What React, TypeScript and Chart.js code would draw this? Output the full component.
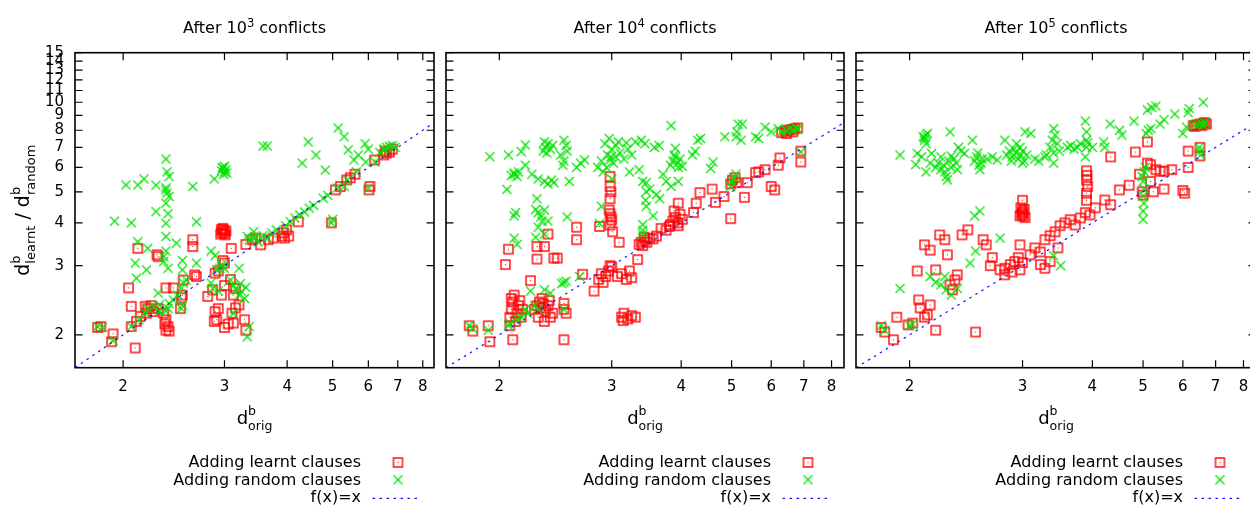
import React, { useEffect, useRef } from 'react';
import { Chart, registerables, LinearScale } from 'chart.js';

Chart.register(...registerables);

// ---- axes -------------------------------------------------------------
// Both axes are logarithmic in (value - SHIFT).
const SHIFT = 0.8;
const X_MIN = 1.7;
const X_MAX = 8.5;
const Y_MIN = 1.7;
const Y_MAX = 15;
const X_TICKS = [2, 3, 4, 5, 6, 7, 8];
const Y_TICKS = [2, 3, 4, 5, 6, 7, 8, 9, 10, 11, 12, 13, 14, 15];
const IDENTITY = [1.7, 8.5];

// ---- labels -----------------------------------------------------------
const PANEL_EXPONENTS = ['3', '4', '5'];
const LEGEND_LABELS = ['Adding learnt clauses', 'Adding random clauses', 'f(x)=x'];

// ---- data: [d_orig, d_learnt/d_random] --------------------------------
type P = [number, number];

const LEARNT_AFTER_1E3: P[] = [
  [1.83, 2.08], [1.85, 2.09], [1.93, 2.01], [1.92, 1.93], [2.09, 1.87], [2.04, 2.61], [2.06, 2.34],
  [2.11, 3.36], [2.27, 3.22], [2.28, 3.18], [2.62, 3.56], [2.62, 3.4], [3.09, 3.36],
  [2.06, 2.09], [2.1, 2.15], [2.13, 2.21], [2.18, 2.25], [2.19, 2.31], [2.24, 2.27], [2.28, 2.31],
  [2.33, 2.25], [2.35, 2.17], [2.37, 2.09], [2.38, 2.04], [2.35, 2.05], [2.34, 2.12], [2.17, 2.34],
  [2.22, 2.35], [2.35, 2.61], [2.42, 2.61], [2.5, 2.46], [2.49, 2.31], [2.51, 2.5], [2.52, 2.74],
  [2.64, 2.83], [2.66, 2.8], [2.79, 2.48], [2.85, 2.58], [2.88, 2.86], [2.92, 2.9], [3.0, 3.05],
  [2.98, 3.1], [2.88, 2.27], [2.9, 2.17], [2.87, 2.15], [2.92, 2.31], [3.12, 2.13], [3.1, 2.25],
  [3.28, 2.17], [3.3, 2.05], [3.15, 2.32], [3.2, 2.36], [3.12, 2.5], [3.15, 2.6], [3.08, 2.75],
  [2.95, 3.7], [2.97, 3.75], [2.99, 3.8], [3.0, 3.72], [3.02, 3.78], [2.96, 3.82], [3.01, 3.68],
  [2.98, 3.85], [3.4, 3.56], [3.3, 3.45], [3.45, 3.6], [3.93, 3.73], [3.99, 3.81], [3.9, 3.65],
  [4.03, 3.65], [3.95, 3.6], [3.53, 3.44], [3.66, 3.56], [3.75, 3.6], [4.22, 4.03], [4.97, 4.0],
  [5.07, 5.07], [5.2, 5.2], [5.37, 5.46], [5.47, 5.55], [5.6, 5.7], [6.02, 5.07], [6.05, 5.2],
  [6.2, 6.35], [6.5, 6.6], [6.6, 6.7], [6.7, 6.75], [6.8, 6.9], [6.55, 6.8], [3.0, 2.65],
  [2.96, 2.5], [3.0, 2.08], [3.05, 2.12],
];

const RANDOM_AFTER_1E3: P[] = [
  [1.83, 2.09], [1.86, 2.08], [1.93, 1.94], [2.06, 2.09], [2.12, 2.17], [2.17, 2.25], [2.19, 2.31],
  [2.24, 2.34], [2.29, 2.36], [2.29, 2.27], [2.34, 2.29], [2.37, 2.31], [2.38, 2.38], [2.42, 2.43],
  [2.46, 2.5], [2.5, 2.61], [2.52, 2.69], [2.55, 2.74], [2.51, 2.36], [2.5, 2.31], [2.28, 2.53],
  [2.83, 2.69], [2.85, 2.6], [2.92, 2.56], [2.9, 2.92], [2.94, 2.95], [2.97, 2.98], [3.0, 2.95],
  [2.96, 3.02], [3.08, 2.74], [3.12, 2.65], [3.16, 2.58], [3.2, 2.5], [3.24, 2.55], [3.28, 2.45],
  [3.3, 2.62], [3.22, 2.68], [2.83, 3.3], [2.88, 3.2], [3.2, 2.95], [3.32, 3.64], [3.42, 3.76],
  [3.45, 3.6], [3.35, 2.09], [3.32, 1.98], [3.12, 2.25],
  [1.94, 4.05], [2.06, 4.0], [2.02, 5.26], [2.11, 5.26], [2.16, 5.5], [2.26, 5.25], [2.35, 6.4],
  [2.36, 5.8], [2.38, 5.6], [2.35, 5.15], [2.36, 4.95], [2.35, 5.07], [2.38, 4.83], [2.35, 4.6],
  [2.26, 4.33], [2.37, 4.27], [2.35, 3.99], [2.66, 4.03], [2.35, 3.64], [2.45, 3.48], [2.11, 3.51],
  [2.19, 3.36], [2.35, 3.3], [2.33, 3.18], [2.09, 3.05], [2.33, 3.08], [2.37, 2.95], [2.18, 2.92],
  [2.1, 2.77], [2.51, 3.1], [2.51, 2.92], [2.66, 3.05], [2.62, 5.2], [2.87, 5.5],
  [2.96, 5.85], [2.98, 5.95], [3.0, 5.8], [3.02, 5.9], [2.97, 6.0], [3.0, 6.05], [3.03, 5.75],
  [2.99, 5.7], [3.57, 7.07], [3.64, 7.07], [4.43, 7.3], [4.3, 6.2], [5.14, 8.14], [4.82, 5.88],
  [5.41, 6.86], [5.57, 6.35], [5.7, 6.6], [6.0, 6.9], [5.3, 7.6], [5.9, 7.2], [4.6, 6.6],
  [3.35, 3.56], [3.42, 3.61], [3.49, 3.51], [3.57, 3.66], [3.64, 3.61], [3.72, 3.73], [3.8, 3.81],
  [3.97, 3.92], [4.06, 4.03], [4.15, 4.14], [4.25, 4.23], [4.35, 4.32], [4.45, 4.44], [4.55, 4.53],
  [4.77, 4.77], [4.88, 4.87], [5.12, 5.14], [5.38, 5.46], [5.64, 5.8], [5.92, 6.25], [6.21, 6.25],
  [6.37, 6.73], [6.53, 6.88], [6.6, 7.0], [6.7, 7.05], [6.8, 7.1], [6.9, 7.0], [6.5, 6.9],
  [4.97, 4.0], [5.0, 4.1], [6.0, 5.15], [5.3, 5.2],
];

const LEARNT_AFTER_1E4: P[] = [
  [1.82, 2.1], [1.84, 2.04], [1.93, 2.1], [1.94, 1.93], [2.04, 3.02], [2.06, 3.34], [2.09, 1.95],
  [2.07, 2.1], [2.07, 2.2], [2.08, 2.3], [2.09, 2.4], [2.1, 2.5], [2.12, 2.25], [2.13, 2.35],
  [2.15, 2.2], [2.16, 2.3], [2.11, 2.15], [2.08, 2.45], [2.14, 2.42], [2.22, 2.73], [2.27, 3.4],
  [2.33, 3.4], [2.27, 3.13], [2.41, 3.15], [2.44, 3.15], [2.36, 3.7], [2.25, 2.3], [2.27, 2.35],
  [2.29, 2.4], [2.3, 2.32], [2.32, 2.38], [2.34, 2.28], [2.36, 2.35], [2.38, 2.2], [2.4, 2.25],
  [2.28, 2.2], [2.33, 2.15], [2.37, 2.42], [2.31, 2.45], [2.5, 2.3], [2.5, 2.38], [2.52, 2.25],
  [2.5, 1.95], [2.62, 3.88], [2.62, 3.56], [2.86, 3.9], [2.68, 2.84], [2.8, 2.56], [2.85, 2.75],
  [2.88, 2.85], [2.9, 2.7], [2.93, 2.8], [2.96, 2.9], [2.98, 3.0], [3.0, 2.98], [3.07, 2.8],
  [3.12, 2.85], [3.18, 2.75], [3.22, 2.9], [3.25, 2.78], [2.98, 5.6], [2.98, 5.2], [2.99, 5.0],
  [2.98, 4.75], [2.97, 4.38], [2.98, 4.27], [2.99, 4.17], [3.0, 4.08], [2.98, 3.94], [3.01, 3.76],
  [3.09, 3.5], [3.33, 3.12], [3.12, 2.2], [3.15, 2.25], [3.2, 2.18], [3.25, 2.22], [3.3, 2.2],
  [3.14, 2.16], [3.35, 3.45], [3.38, 3.5], [3.4, 3.42], [3.43, 3.55], [3.46, 3.5], [3.5, 3.6],
  [3.55, 3.58], [3.6, 3.65], [3.42, 3.62], [3.67, 3.85], [3.75, 3.8], [3.8, 3.9], [3.82, 3.95],
  [3.86, 4.05], [3.9, 4.15], [3.94, 4.0], [3.98, 4.25], [4.02, 4.1], [3.88, 4.35], [3.95, 3.92],
  [3.95, 4.6], [4.22, 4.3], [4.27, 4.6], [4.34, 4.97], [4.58, 5.1], [4.65, 4.63], [4.83, 4.83],
  [4.98, 4.12], [4.98, 5.3], [5.02, 5.45], [5.08, 5.55], [5.12, 5.35], [5.3, 4.8], [5.37, 5.35],
  [5.58, 5.77], [5.66, 5.8], [5.83, 5.9], [6.0, 5.2], [6.1, 5.07], [6.2, 6.1], [6.25, 6.45],
  [6.9, 6.8], [6.9, 6.25], [6.3, 7.85], [6.4, 7.95], [6.5, 8.0], [6.6, 8.05], [6.7, 8.1],
  [6.8, 8.15], [6.45, 7.8], [6.65, 7.9],
];

const RANDOM_AFTER_1E4: P[] = [
  [1.82, 2.1], [1.84, 2.07], [1.93, 2.05], [1.94, 6.51], [2.06, 6.6], [2.05, 5.09], [2.15, 6.77],
  [2.18, 7.13], [2.08, 5.65], [2.1, 5.75], [2.12, 5.6], [2.13, 5.8], [2.1, 5.7], [2.18, 6.1],
  [2.23, 5.7], [2.28, 5.5], [2.32, 6.8], [2.34, 7.0], [2.36, 7.2], [2.38, 6.9], [2.35, 6.7],
  [2.4, 7.1], [2.33, 7.3], [2.33, 5.4], [2.36, 5.3], [2.39, 5.45], [2.41, 5.35], [2.5, 7.4],
  [2.52, 7.1], [2.53, 6.8], [2.47, 6.6], [2.5, 6.3], [2.49, 6.1], [2.55, 5.4], [2.62, 6.0],
  [2.66, 6.2], [2.7, 6.35], [2.1, 4.2], [2.11, 4.3], [2.1, 3.6], [2.12, 3.45], [2.27, 4.75],
  [2.26, 4.4], [2.28, 4.3], [2.3, 4.17], [2.31, 4.05], [2.28, 3.88], [2.33, 3.7], [2.26, 3.62],
  [2.33, 4.38], [2.36, 4.05], [2.22, 2.56], [2.33, 2.58], [2.38, 2.53], [2.15, 2.2], [2.18, 2.3],
  [2.2, 2.25], [2.25, 2.35], [2.28, 2.3], [2.12, 2.18], [2.06, 2.1], [2.07, 2.13], [2.5, 2.7],
  [2.52, 2.72], [2.48, 2.68], [2.5, 2.3], [2.65, 2.8], [2.53, 4.17], [2.86, 3.98], [2.88, 4.5],
  [2.84, 6.0], [2.88, 6.3], [2.92, 7.2], [2.95, 6.6], [2.98, 6.35], [3.0, 6.9], [3.02, 6.2],
  [2.97, 7.5], [3.05, 6.5], [3.1, 6.7], [3.15, 6.4], [2.9, 5.8], [3.0, 5.5], [2.94, 6.0],
  [3.2, 6.9], [3.25, 6.6], [3.08, 7.3], [2.99, 6.5], [3.05, 7.1], [3.18, 7.25], [3.3, 7.3],
  [3.38, 7.4], [3.43, 7.2], [3.22, 5.8], [3.35, 5.9], [3.4, 5.4], [3.45, 5.35], [3.45, 5.0],
  [3.44, 4.7], [3.5, 5.1], [3.6, 4.9], [3.65, 4.75], [3.45, 4.5], [3.4, 3.95], [3.55, 4.2],
  [3.4, 3.8], [3.4, 3.7], [3.57, 7.0], [3.64, 7.1], [3.7, 5.7], [3.75, 5.4], [3.83, 5.2],
  [3.95, 5.4], [3.82, 6.1], [3.86, 6.3], [3.9, 6.5], [3.94, 6.2], [3.98, 6.4], [4.02, 6.05],
  [3.88, 6.6], [3.95, 6.0], [3.83, 8.3], [3.9, 6.95], [4.2, 6.6], [4.25, 6.8], [4.3, 7.4],
  [4.35, 7.5], [4.55, 5.95], [4.6, 6.25], [4.85, 7.6], [4.98, 5.2], [5.0, 5.4], [5.05, 5.55],
  [5.1, 5.7], [5.1, 7.6], [5.15, 8.4], [5.25, 8.4], [5.12, 7.9], [5.22, 7.4], [5.58, 7.6],
  [5.66, 7.5], [5.83, 8.2], [6.0, 7.9], [6.2, 8.1], [6.3, 7.9], [6.45, 8.0], [6.55, 8.1],
  [6.65, 8.0], [6.75, 8.15], [6.8, 8.05], [6.9, 6.75],
];

const LEARNT_AFTER_1E5: P[] = [
  [1.83, 2.08], [1.85, 2.03], [1.92, 2.2], [1.9, 1.95], [1.99, 2.11], [2.02, 2.13], [2.05, 2.9],
  [2.06, 2.43], [2.1, 3.44], [2.14, 3.32], [2.18, 2.92], [2.14, 2.36], [2.12, 2.23], [2.07, 2.32],
  [2.1, 2.2], [2.18, 2.05], [2.21, 3.68], [2.25, 3.56], [2.27, 3.22], [2.29, 2.66], [2.33, 2.74],
  [2.31, 2.58], [2.35, 2.83], [2.39, 3.68], [2.44, 3.81], [2.51, 2.03], [2.58, 3.56], [2.61, 3.44],
  [2.65, 3.0], [2.67, 3.16], [2.75, 2.92], [2.8, 2.95], [2.86, 3.02], [2.91, 3.08], [2.8, 2.83],
  [2.88, 2.88], [2.97, 3.44], [2.95, 3.16], [3.0, 3.06], [2.97, 2.92], [2.97, 4.2], [3.0, 4.3],
  [3.02, 4.4], [2.99, 4.25], [3.03, 4.15], [3.0, 4.35], [2.98, 4.45], [3.01, 4.2], [3.0, 4.7],
  [3.09, 3.22], [3.15, 3.37], [3.22, 3.28], [3.28, 3.56], [3.35, 3.66], [3.42, 3.76], [3.49, 3.92],
  [3.56, 4.0], [3.64, 4.09], [3.28, 2.95], [3.35, 3.08], [3.22, 3.02], [3.46, 3.37], [3.72, 3.94],
  [3.8, 4.14], [3.88, 4.3], [3.96, 4.23], [4.05, 4.45], [3.9, 4.7], [3.9, 4.95], [3.92, 5.2],
  [3.9, 5.45], [3.91, 5.65], [3.9, 5.85], [4.22, 4.71], [4.33, 4.55], [4.5, 5.07], [4.7, 5.25],
  [4.98, 5.0], [5.0, 4.88], [4.92, 5.7], [4.33, 6.5], [4.83, 6.75], [5.1, 7.3], [5.1, 6.2],
  [5.17, 6.13], [5.3, 5.9], [5.4, 5.83], [5.5, 5.83], [5.7, 5.9], [6.15, 6.0], [5.17, 5.4],
  [5.24, 5.0], [5.5, 5.1], [6.0, 5.05], [6.05, 4.95], [6.15, 6.8], [6.5, 7.0], [6.5, 6.55],
  [6.3, 8.3], [6.4, 8.35], [6.5, 8.4], [6.6, 8.45], [6.7, 8.4], [6.35, 8.25], [6.55, 8.3],
  [6.65, 8.5],
];

const RANDOM_AFTER_1E5: P[] = [
  [1.94, 6.6], [2.05, 6.68], [2.08, 6.51], [2.04, 6.13], [2.11, 5.8], [2.14, 6.2], [2.15, 6.68],
  [2.1, 7.4], [2.1, 7.55], [2.11, 7.7], [2.12, 7.8], [2.09, 7.6], [2.11, 7.2], [2.29, 7.9],
  [2.18, 6.0], [2.2, 6.2], [2.22, 5.9], [2.24, 6.1], [2.25, 5.8], [2.26, 5.6], [2.28, 6.3],
  [2.3, 6.0], [2.32, 6.4], [2.34, 6.2], [2.35, 5.9], [2.27, 5.46], [2.22, 6.5], [2.3, 6.55],
  [2.36, 7.0], [2.38, 6.8], [2.41, 6.68], [2.48, 7.4], [2.5, 6.3], [2.52, 6.5], [2.54, 6.1],
  [2.55, 5.9], [2.57, 6.4], [2.53, 6.7], [2.56, 6.2], [2.62, 6.4], [2.67, 6.5], [2.72, 6.35],
  [2.8, 7.4], [2.82, 6.6], [2.85, 6.8], [2.88, 6.5], [2.9, 6.9], [2.92, 6.7], [2.95, 6.4],
  [2.97, 7.0], [2.98, 6.6], [3.0, 6.8], [3.02, 6.3], [3.05, 6.6], [2.87, 6.3], [2.93, 7.2],
  [3.0, 6.2], [3.03, 7.9], [3.1, 7.8], [3.15, 6.4], [3.2, 6.3], [3.28, 6.5], [3.4, 6.2],
  [3.3, 6.6], [3.35, 7.0], [3.38, 7.4], [3.4, 8.1], [3.42, 7.7], [3.45, 7.2], [3.48, 6.8],
  [3.4, 6.7], [3.6, 7.0], [3.65, 7.1], [3.7, 6.9], [3.75, 7.0], [3.8, 7.2], [3.88, 8.6],
  [3.9, 7.9], [3.9, 7.4], [3.9, 7.0], [3.92, 7.25], [3.88, 6.5], [4.0, 7.0], [4.2, 7.3],
  [4.22, 7.0], [4.32, 8.4], [4.5, 8.0], [4.55, 7.7], [4.8, 8.6], [5.07, 7.8], [5.12, 8.0],
  [5.18, 8.1], [5.1, 9.4], [5.2, 9.6], [5.3, 9.7], [5.4, 8.4], [5.5, 8.7], [5.78, 9.1],
  [6.0, 7.8], [6.1, 8.2], [6.15, 9.2], [6.18, 9.5], [6.5, 6.8], [6.52, 6.6], [6.48, 7.0],
  [6.6, 10.0], [6.35, 8.35], [6.45, 8.4], [6.55, 8.45], [6.6, 8.3], [6.65, 8.5],
  [1.83, 2.1], [1.85, 2.05], [2.0, 2.1], [2.02, 2.12], [1.94, 2.6], [2.14, 2.8], [2.18, 2.7],
  [2.22, 2.66], [2.26, 2.58], [2.3, 2.5], [2.35, 2.6], [2.25, 2.8], [2.5, 4.2], [2.55, 4.35],
  [2.51, 3.3], [2.46, 3.05], [2.75, 3.6], [3.4, 3.2], [3.5, 3.0], [5.0, 4.1], [5.0, 4.35],
  [5.02, 4.6], [5.0, 4.85], [5.03, 5.1], [5.0, 5.4], [5.03, 5.8], [5.05, 6.0], [4.98, 5.6],
];

const PANEL_DATA = [
  { learnt: LEARNT_AFTER_1E3, random: RANDOM_AFTER_1E3 },
  { learnt: LEARNT_AFTER_1E4, random: RANDOM_AFTER_1E4 },
  { learnt: LEARNT_AFTER_1E5, random: RANDOM_AFTER_1E5 },
];

// ---- layout (px) ------------------------------------------------------
const H = 506;
const PLOT_TOP = 52.7;
const PLOT_BOTTOM = 367.7;
const PANELS = [
  { canvasLeft: 0, canvasWidth: 440, plotLeft: 75, plotRight: 436.6 },
  { canvasLeft: 440, canvasWidth: 410, plotLeft: 445.6, plotRight: 846.6 },
  { canvasLeft: 850, canvasWidth: 412, plotLeft: 856, plotRight: 1257 },
];

const FONT = '"DejaVu Sans", "Liberation Sans", sans-serif';
const RED = 'rgb(255,0,0)';
const GREEN = 'rgb(0,225,0)';
const BLUE = 'rgb(20,20,255)';

// Scale: logarithmic in (v - SHIFT) with fixed ticks.
class ShiftedLogScale extends LinearScale {
  static id = 'shiftedLog';
  static defaults = {};
  determineDataLimits() {
    this.min = this.options.min;
    this.max = this.options.max;
  }
  buildTicks() {
    const vals = this.axis === 'x' ? X_TICKS : Y_TICKS;
    return vals.map((v) => ({ value: v }));
  }
  configure() {
    super.configure();
    this._t0 = Math.log(this.min - SHIFT);
    this._t1 = Math.log(this.max - SHIFT);
  }
  getPixelForValue(v) {
    return this.getPixelForDecimal((Math.log(v - SHIFT) - this._t0) / (this._t1 - this._t0));
  }
  getValueForPixel(p) {
    return SHIFT + Math.exp(this._t0 + this.getDecimalForPixel(p) * (this._t1 - this._t0));
  }
}
Chart.register(ShiftedLogScale as any);

// ---- markers ----------------------------------------------------------
function squareMarker(): HTMLCanvasElement {
  const c = document.createElement('canvas');
  c.width = 13;
  c.height = 13;
  const g = c.getContext('2d')!;
  g.strokeStyle = RED;
  g.lineWidth = 1.4;
  g.strokeRect(2, 2, 9, 9);
  g.fillStyle = RED;
  g.fillRect(6, 6, 1, 1);
  return c;
}

function crossMarker(): HTMLCanvasElement {
  const c = document.createElement('canvas');
  c.width = 13;
  c.height = 13;
  const g = c.getContext('2d')!;
  g.strokeStyle = GREEN;
  g.lineWidth = 1.2;
  g.beginPath();
  g.moveTo(2, 2);
  g.lineTo(11, 11);
  g.moveTo(11, 2);
  g.lineTo(2, 11);
  g.stroke();
  return c;
}

// ---- text with super/subscripts ---------------------------------------
type Seg = { text: string } | { sup: string; sub: string };

function segsWidth(ctx: CanvasRenderingContext2D, segs: Seg[], main: number, script: number) {
  let w = 0;
  for (const s of segs) {
    if ('text' in s) {
      ctx.font = `${main}px ${FONT}`;
      w += ctx.measureText(s.text).width;
    } else {
      ctx.font = `${script}px ${FONT}`;
      w += Math.max(ctx.measureText(s.sup).width, ctx.measureText(s.sub).width);
    }
  }
  return w;
}

function drawSegs(
  ctx: CanvasRenderingContext2D, segs: Seg[], cx: number, y: number,
  main: number, script: number, supDy: number, subDy: number,
) {
  let x = cx - segsWidth(ctx, segs, main, script) / 2;
  ctx.textAlign = 'left';
  ctx.textBaseline = 'alphabetic';
  for (const s of segs) {
    if ('text' in s) {
      ctx.font = `${main}px ${FONT}`;
      ctx.fillText(s.text, x, y);
      x += ctx.measureText(s.text).width;
    } else {
      ctx.font = `${script}px ${FONT}`;
      if (s.sup) ctx.fillText(s.sup, x, y + supDy);
      if (s.sub) ctx.fillText(s.sub, x, y + subDy);
      x += Math.max(ctx.measureText(s.sup).width, ctx.measureText(s.sub).width);
    }
  }
}

// ---- frame, ticks, titles, legend -------------------------------------
const decorPlugin = {
  id: 'panelDecor',
  afterDraw(chart: any, _args: any, opts: any) {
    const { ctx, chartArea: ca } = chart;
    const xs = chart.scales.x;
    const ys = chart.scales.y;
    ctx.save();
    ctx.fillStyle = '#000';
    ctx.strokeStyle = '#000';

    // frame with inward ticks on all sides
    ctx.lineWidth = 1.6;
    ctx.strokeRect(ca.left, ca.top, ca.right - ca.left, ca.bottom - ca.top);
    ctx.lineWidth = 1.2;
    ctx.beginPath();
    const tl = 7.5;
    for (const v of X_TICKS) {
      const px = xs.getPixelForValue(v);
      ctx.moveTo(px, ca.bottom);
      ctx.lineTo(px, ca.bottom - tl);
      ctx.moveTo(px, ca.top);
      ctx.lineTo(px, ca.top + tl);
    }
    for (const v of Y_TICKS) {
      const py = ys.getPixelForValue(v);
      ctx.moveTo(ca.left, py);
      ctx.lineTo(ca.left + tl, py);
      ctx.moveTo(ca.right, py);
      ctx.lineTo(ca.right - tl, py);
    }
    ctx.stroke();

    const cx = (ca.left + ca.right) / 2;

    // panel title
    drawSegs(ctx, [{ text: 'After 10' }, { sup: opts.exponent, sub: '' }, { text: ' conflicts' }],
      cx, 33.3, 16, 11.5, -6.8, 0);

    // x axis title
    drawSegs(ctx, [{ text: 'd' }, { sup: 'b', sub: 'orig' }], cx, 424, 18, 12.5, -9, 6);

    // y axis title (first panel only)
    if (opts.yTitle) {
      ctx.save();
      ctx.translate(29, (ca.top + ca.bottom) / 2);
      ctx.rotate(-Math.PI / 2);
      drawSegs(ctx, [{ text: 'd' }, { sup: 'b', sub: 'learnt' }, { text: ' / d' }, { sup: 'b', sub: 'random' }],
        0, 0, 19, 13, -9.5, 6);
      ctx.restore();
    }

    // legend
    const textRight = ca.right - 73;
    const markX = ca.right - 36;
    const rows = [467.2, 484.8, 502.2];
    const marks = [462.5, 479.8, 498.3];
    ctx.font = `16px ${FONT}`;
    ctx.textAlign = 'right';
    ctx.textBaseline = 'alphabetic';
    LEGEND_LABELS.forEach((label, i) => ctx.fillText(label, textRight, rows[i]));
    const sq = opts.square;
    const cr = opts.cross;
    ctx.drawImage(sq, markX - sq.width / 2, marks[0] - sq.height / 2);
    ctx.drawImage(cr, markX - cr.width / 2, marks[1] - cr.height / 2);
    ctx.strokeStyle = BLUE;
    ctx.lineWidth = 1.2;
    ctx.setLineDash([2.5, 4.5]);
    ctx.beginPath();
    ctx.moveTo(ca.right - 61.5, marks[2]);
    ctx.lineTo(ca.right - 13.5, marks[2]);
    ctx.stroke();
    ctx.restore();
  },
};

function Panel({ index }: { index: number }) {
  const ref = useRef<HTMLCanvasElement | null>(null);
  const geo = PANELS[index];
  useEffect(() => {
    const square = squareMarker();
    const cross = crossMarker();
    const { learnt, random } = PANEL_DATA[index];
    const yWidth = geo.plotLeft - geo.canvasLeft;
    const rightPad = geo.canvasLeft + geo.canvasWidth - geo.plotRight;
    const tickFont = { family: FONT, size: 15 };
    const chart = new Chart(ref.current!, {
      type: 'scatter',
      data: {
        datasets: [
          {
            label: LEGEND_LABELS[2],
            data: IDENTITY.map((v) => ({ x: v, y: v })),
            showLine: true,
            borderColor: BLUE,
            borderWidth: 1.2,
            borderDash: [2.5, 4.5],
            pointRadius: 0,
            order: 0,
          },
          {
            label: LEGEND_LABELS[1],
            data: random.map(([x, y]) => ({ x, y })),
            pointStyle: cross,
            pointRadius: 5,
            order: 1,
          },
          {
            label: LEGEND_LABELS[0],
            data: learnt.map(([x, y]) => ({ x, y })),
            pointStyle: square,
            pointRadius: 5,
            order: 2,
          },
        ],
      },
      options: {
        responsive: false,
        animation: false,
        devicePixelRatio: 1,
        events: [],
        layout: { padding: { top: PLOT_TOP, right: rightPad, left: 0, bottom: 0 } },
        scales: {
          x: {
            type: 'shiftedLog',
            min: X_MIN,
            max: X_MAX,
            grid: { display: false, drawTicks: false },
            border: { display: false },
            ticks: {
              autoSkip: false,
              maxRotation: 0,
              minRotation: 0,
              padding: 10,
              color: '#000',
              font: tickFont,
              callback: (v: any) => String(v),
            },
            afterFit: (s: any) => { s.height = H - PLOT_BOTTOM; },
          },
          y: {
            type: 'shiftedLog',
            min: Y_MIN,
            max: Y_MAX,
            grid: { display: false, drawTicks: false },
            border: { display: false },
            ticks: {
              display: index === 0,
              autoSkip: false,
              padding: 11,
              color: '#000',
              font: tickFont,
              callback: (v: any) => String(v),
            },
            afterFit: (s: any) => { s.width = yWidth; },
          },
        } as any,
        plugins: {
          legend: { display: false },
          tooltip: { enabled: false },
          panelDecor: { exponent: PANEL_EXPONENTS[index], yTitle: index === 0, square, cross },
        } as any,
      },
      plugins: [decorPlugin],
    } as any);
    return () => chart.destroy();
  }, [index]);
  return (
    <canvas
      ref={ref}
      width={geo.canvasWidth}
      height={H}
      style={{ position: 'absolute', left: geo.canvasLeft, top: 0, width: geo.canvasWidth, height: H }}
    />
  );
}

export default function App() {
  return (
    <div style={{ position: 'absolute', left: 0, top: 0, width: 1250, height: H, overflow: 'hidden', background: '#fff' }}>
      {PANELS.map((_, i) => (
        <Panel key={i} index={i} />
      ))}
    </div>
  );
}
